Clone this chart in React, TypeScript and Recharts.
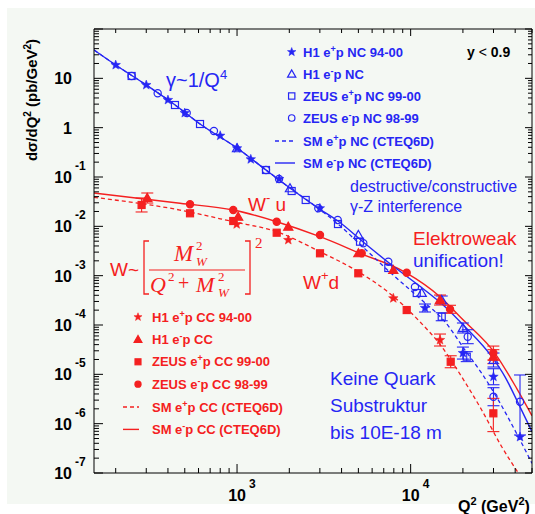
// HERA NC / CC cross sections vs Q² — log-log plot, ROOT style frame.
import { ComposedChart, ErrorBar, Line, Scatter, XAxis, YAxis } from "recharts";

const BLUE = "#2626f4";
const RED = "#f42020";
const FONT = "'Liberation Sans', Arial, Helvetica, sans-serif";
const SERIF = "'Liberation Serif', 'DejaVu Serif', serif";

// page / frame geometry
const W = 535;
const H = 514;
const L = 94;
const R = 532;
const T = 29;
const B = 473;
const YAXIS_W = 60;
const XAXIS_H = 30;

const Q2_DOMAIN: [number, number] = [150, 50000];
const SIG_DOMAIN: [number, number] = [1e-7, 100];

// tick grid (log decades, minor ticks at 2..9)
const xDecades = [2, 3, 4];
const yDecades = [-7, -6, -5, -4, -3, -2, -1, 0, 1];
const mantissas = [1, 2, 3, 4, 5, 6, 7, 8, 9];
const xTicks = xDecades
  .flatMap((d) => mantissas.map((m) => m * 10 ** d))
  .filter((v) => v >= Q2_DOMAIN[0] && v <= Q2_DOMAIN[1]);
const yTicks = [...yDecades.flatMap((d) => mantissas.map((m) => m * 10 ** d)), 100];
const xLabelled = [1000, 10000];

// --- SM curves (CTEQ6D) ---
const ncPosQ2 = [150, 200, 300, 440, 612, 1000, 1468, 2018, 2926, 3815, 5458, 8128, 11580, 15770, 20560, 25660, 31990, 41700, 50000];
const ncPosSigma = [37.5, 18.6, 7.32, 2.88, 1.186, 0.387, 0.1386, 0.0598, 0.0235, 0.01114, 0.00347, 9.5e-4, 3.2e-4, 1.16e-4, 3.11e-5, 1.05e-5, 3.01e-6, 5.43e-7, 1.57e-7];
const ncEleQ2 = [150, 200, 300, 440, 612, 1000, 1468, 2018, 2926, 3815, 5458, 7780, 11060, 15770, 20560, 29310, 34960, 41700, 50000];
const ncEleSigma = [37.5, 18.6, 7.32, 2.88, 1.186, 0.387, 0.1386, 0.0598, 0.0235, 0.0128, 0.00449, 0.00164, 6.46e-4, 2.35e-4, 9.2e-5, 2.28e-5, 8.9e-6, 2.58e-6, 6.87e-7];
const ccPosQ2 = [150, 469, 951, 1692, 3006, 4995, 7780, 11060, 15100, 19680, 25660, 33460, 41700];
const ccPosSigma = [0.0387, 0.0214, 0.0124, 0.00778, 0.00306, 0.0012, 4.05e-4, 1.26e-4, 3.63e-5, 8.9e-6, 1.89e-6, 3.41e-7, 1e-7];
const ccEleQ2 = [150, 469, 951, 1692, 3006, 5105, 9280, 14760, 20100, 30600, 40800, 50000];
const ccEleSigma = [0.0474, 0.0293, 0.0214, 0.0124, 0.00616, 0.00284, 0.00118, 3.74e-4, 1.26e-4, 2.67e-5, 5.2e-6, 1.45e-6];

// --- NC data ---
type Err = [number, number] | null;
const h1PosNcQ2 = [200, 300, 400, 500, 800, 1000, 1200, 1750, 3000, 12100, 20000, 30000, 42650];
const h1PosNcSigma = [18.6, 7.32, 3.64, 1.98, 0.687, 0.3816, 0.2284, 0.091, 0.0232, 2.21e-4, 2.7e-5, 8.94e-6, 5.36e-7];
const h1PosNcErr: Err[] = [null, null, null, null, null, null, null, null, null, [3.76e-5, 4.53e-5], [6.6e-6, 8.7e-6], [2.79e-6, 4.05e-6], null];

const h1EleNcQ2 = [1000, 2018, 5000, 11580, 15100, 20000, 30000];
const h1EleNcSigma = [0.3816, 0.059, 0.00667, 4.45e-4, 3.21e-4, 8.69e-5, 1.95e-5];
const h1EleNcErr: Err[] = [null, null, null, null, [5.5e-5, 6.6e-5], [1.81e-5, 2.29e-5], [5.43e-6, 7.53e-6]];

const zeusPosNcQ2 = [247, 439, 612, 1468, 2064, 2486, 3815, 5109, 7435, 10840, 15100, 21040];
const zeusPosNcSigma = [11.15, 2.88, 1.186, 0.1386, 0.052, 0.0342, 0.01114, 0.00488, 0.00143, 4.45e-4, 1.47e-4, 2.28e-5];
const zeusPosNcErr: Err[] = [null, null, null, null, null, null, null, null, null, null, [2.5e-5, 3.0e-5], [4.7e-6, 6.0e-6]];

const zeusEleNcQ2 = [247, 349, 513, 736, 1468, 1745, 2938, 3800, 5338, 7435, 10590, 21320, 30000, 42650];
const zeusEleNcSigma = [11.15, 4.97, 1.98, 0.855, 0.1386, 0.091, 0.0232, 0.01343, 0.00453, 0.00192, 5.89e-4, 5.79e-5, 3.52e-6, 2.79e-6];
const zeusEleNcErr: Err[] = [null, null, null, null, null, null, null, null, null, null, null, [1.61e-5, 2.23e-5], [1.21e-6, 1.84e-6], [2.2e-6, 6.91e-6]];

// --- CC data ---
const h1PosCcQ2 = [995, 1973, 7945, 14760];
const h1PosCcSigma = [0.01099, 0.00528, 3.48e-4, 4.96e-5];
const h1PosCcErr: Err[] = [null, null, null, [1.21e-5, 1.6e-5]];

const h1EleCcQ2 = [304, 1015, 1973, 5000, 7945, 14760, 29950];
const h1EleCcSigma = [0.0375, 0.01567, 0.00982, 0.00284, 0.0013, 3.21e-4, 2.28e-5];
const h1EleCcErr: Err[] = [[0.0078, 0.0099], null, null, null, null, [6.7e-5, 8.4e-5], [6.35e-6, 8.8e-6]];

const zeusPosCcQ2 = [282, 536, 951, 1692, 3005, 4995, 9490, 17010, 29950];
const zeusPosCcSigma = [0.0271, 0.01837, 0.01282, 0.00743, 0.00284, 0.001117, 2.01e-4, 1.8e-5, 1.62e-6];
const zeusPosCcErr: Err[] = [[0.00755, 0.01046], null, null, null, null, null, null, [4.4e-6, 5.8e-6], [9.3e-7, 1.64e-6]];

const zeusEleCcQ2 = [536, 951, 1692, 3005, 5224, 9490, 16860, 29950];
const zeusEleCcSigma = [0.02795, 0.0214, 0.01241, 0.00667, 0.00284, 0.001148, 2.08e-4, 2.7e-5];
const zeusEleCcErr: Err[] = [null, null, null, null, null, null, [3.5e-5, 4.3e-5], [7.5e-6, 1.04e-5]];

const toRows = (q2: number[], sigma: number[], err?: Err[]) =>
  q2.map((x, i) => ({ x, y: sigma[i], err: err?.[i] ?? undefined }));

type Kind = "star" | "triangle" | "square" | "circle";

function Marker({ cx, cy, kind, color, filled, s = 1 }: { cx: number; cy: number; kind: Kind; color: string; filled: boolean; s?: number }) {
  if (cx == null || cy == null) return null;
  const fill = filled ? color : "none";
  if (kind === "star") {
    const pts: string[] = [];
    for (let i = 0; i < 10; i++) {
      const r = (i % 2 === 0 ? 5 : 2.1) * s;
      const a = -Math.PI / 2 + (i * Math.PI) / 5;
      pts.push(`${cx + r * Math.cos(a)},${cy + r * Math.sin(a)}`);
    }
    return <polygon points={pts.join(" ")} fill={color} stroke={color} strokeWidth={0.5} />;
  }
  if (kind === "triangle") {
    const r = 4.6 * s;
    return (
      <polygon
        points={`${cx},${cy - r} ${cx - r},${cy + r * 0.75} ${cx + r},${cy + r * 0.75}`}
        fill={fill}
        stroke={color}
        strokeWidth={1.2}
      />
    );
  }
  if (kind === "square") {
    const h = 3.5 * s;
    return <rect x={cx - h} y={cy - h} width={2 * h} height={2 * h} fill={fill} stroke={color} strokeWidth={1.2} />;
  }
  return <circle cx={cx} cy={cy} r={3.6 * s} fill={fill} stroke={color} strokeWidth={1.2} />;
}

const isMajor = (v: number) => {
  const l = Math.log10(v);
  return Math.abs(l - Math.round(l)) < 1e-6;
};

function LeftTick({ y, payload }: any) {
  const v = payload.value;
  const major = isMajor(v);
  const e = Math.round(Math.log10(v));
  return (
    <g>
      <line x1={L} x2={L + (major ? 9 : 5)} y1={y} y2={y} stroke="#000" />
      {major && e <= 1 && (
        <g fontFamily={FONT} fontWeight="bold" fill="#000">
          <text x={72} y={y + 6} fontSize={16} textAnchor="end">
            {e === 0 ? "1" : "10"}
          </text>
          {e < 0 && (
            <text x={75} y={y - 7} fontSize={12}>
              {e}
            </text>
          )}
        </g>
      )}
    </g>
  );
}

function RightTick({ y, payload }: any) {
  const major = isMajor(payload.value);
  return <line x1={R} x2={R - (major ? 7 : 4)} y1={y} y2={y} stroke="#000" />;
}

function TopTick({ x, payload }: any) {
  const major = isMajor(payload.value);
  return <line x1={x} x2={x} y1={T} y2={T + (major ? 7 : 4)} stroke="#000" />;
}

function BottomTick({ x, payload }: any) {
  const v = payload.value;
  const major = isMajor(v);
  const e = Math.round(Math.log10(v));
  return (
    <g>
      <line x1={x} x2={x} y1={B} y2={B - (major ? 9 : 5)} stroke="#000" />
      {xLabelled.includes(v) && (
        <g fontFamily={FONT} fontWeight="bold" fill="#000">
          <text x={x} y={501} fontSize={16} textAnchor="middle">
            10
          </text>
          <text x={x + 12} y={488} fontSize={12}>
            {e}
          </text>
        </g>
      )}
    </g>
  );
}

type Part = string | [string];
function rich(parts: Part[], supSize: number, raise: number) {
  let up = false;
  return parts.map((p, i) => {
    if (Array.isArray(p)) {
      const el = (
        <tspan key={i} dy={up ? 0 : -raise} fontSize={supSize}>
          {p[0]}
        </tspan>
      );
      up = true;
      return el;
    }
    const el = (
      <tspan key={i} dy={up ? raise : 0}>
        {p}
      </tspan>
    );
    up = false;
    return el;
  });
}

const ncLegend: { kind: Kind; filled: boolean; label: Part[] }[] = [
  { kind: "star", filled: true, label: ["H1 e", ["+"], "p NC 94-00"] },
  { kind: "triangle", filled: false, label: ["H1 e", ["-"], "p NC"] },
  { kind: "square", filled: false, label: ["ZEUS e", ["+"], "p NC 99-00"] },
  { kind: "circle", filled: false, label: ["ZEUS e", ["-"], "p NC 98-99"] },
];
const ncLegendLines: { dash: boolean; label: Part[] }[] = [
  { dash: true, label: ["SM e", ["+"], "p NC (CTEQ6D)"] },
  { dash: false, label: ["SM e", ["-"], "p NC (CTEQ6D)"] },
];
const ccLegend: { kind: Kind; label: Part[] }[] = [
  { kind: "star", label: ["H1 e", ["+"], "p CC 94-00"] },
  { kind: "triangle", label: ["H1 e", ["-"], "p CC"] },
  { kind: "square", label: ["ZEUS e", ["+"], "p CC 99-00"] },
  { kind: "circle", label: ["ZEUS e", ["-"], "p CC 98-99"] },
];
const ccLegendLines: { dash: boolean; label: Part[] }[] = [
  { dash: true, label: ["SM e", ["+"], "p CC (CTEQ6D)"] },
  { dash: false, label: ["SM e", ["-"], "p CC (CTEQ6D)"] },
];

const points: { rows: ReturnType<typeof toRows>; kind: Kind; color: string; filled: boolean }[] = [
  { rows: toRows(h1PosNcQ2, h1PosNcSigma, h1PosNcErr), kind: "star", color: BLUE, filled: true },
  { rows: toRows(h1EleNcQ2, h1EleNcSigma, h1EleNcErr), kind: "triangle", color: BLUE, filled: false },
  { rows: toRows(zeusPosNcQ2, zeusPosNcSigma, zeusPosNcErr), kind: "square", color: BLUE, filled: false },
  { rows: toRows(zeusEleNcQ2, zeusEleNcSigma, zeusEleNcErr), kind: "circle", color: BLUE, filled: false },
  { rows: toRows(h1PosCcQ2, h1PosCcSigma, h1PosCcErr), kind: "star", color: RED, filled: true },
  { rows: toRows(h1EleCcQ2, h1EleCcSigma, h1EleCcErr), kind: "triangle", color: RED, filled: true },
  { rows: toRows(zeusPosCcQ2, zeusPosCcSigma, zeusPosCcErr), kind: "square", color: RED, filled: true },
  { rows: toRows(zeusEleCcQ2, zeusEleCcSigma, zeusEleCcErr), kind: "circle", color: RED, filled: true },
];

const curves = [
  { rows: toRows(ccPosQ2, ccPosSigma), color: RED, dash: "4 3", w: 1.3 },
  { rows: toRows(ccEleQ2, ccEleSigma), color: RED, dash: undefined, w: 1.4 },
  { rows: toRows(ncPosQ2, ncPosSigma), color: BLUE, dash: "4 3", w: 1.3 },
  { rows: toRows(ncEleQ2, ncEleSigma), color: BLUE, dash: undefined, w: 1.4 },
];

export default function App() {
  const axisCommon = { type: "number" as const, scale: "log" as const, allowDataOverflow: true, interval: 0, tickSize: 0, tickMargin: 0, tickLine: false, axisLine: { stroke: "#000" } };
  return (
    <div style={{ position: "absolute", left: 0, top: 0, width: W, height: H, background: "#fff" }}>
      <div style={{ position: "absolute", left: 7, top: 8, width: W - 7, height: 496, background: "#f4f8f3" }} />
      <div style={{ position: "absolute", left: 0, top: 0 }}>
        <ComposedChart
          width={W}
          height={H}
          margin={{ top: T - 1, right: W - R - 1, bottom: H - B - XAXIS_H, left: L - YAXIS_W }}
        >
          <XAxis xAxisId="b" dataKey="x" orientation="bottom" height={XAXIS_H} domain={Q2_DOMAIN} ticks={xTicks} tick={(p: any) => <BottomTick {...p} />} {...axisCommon} />
          <XAxis xAxisId="t" dataKey="x" orientation="top" height={1} domain={Q2_DOMAIN} ticks={xTicks} tick={(p: any) => <TopTick {...p} />} {...axisCommon} />
          <YAxis yAxisId="l" dataKey="y" orientation="left" width={YAXIS_W} domain={SIG_DOMAIN} ticks={yTicks} tick={(p: any) => <LeftTick {...p} />} {...axisCommon} />
          <YAxis yAxisId="r" dataKey="y" orientation="right" width={1} domain={SIG_DOMAIN} ticks={yTicks} tick={(p: any) => <RightTick {...p} />} {...axisCommon} />
          {curves.map((c, i) => (
            <Line
              key={`c${i}`}
              xAxisId="b"
              yAxisId="l"
              data={c.rows}
              dataKey="y"
              type="monotone"
              stroke={c.color}
              strokeWidth={c.w}
              strokeDasharray={c.dash}
              dot={false}
              activeDot={false}
              isAnimationActive={false}
            />
          ))}
          {points.map((s, i) => (
            <Scatter
              key={`s${i}`}
              xAxisId="b"
              yAxisId="l"
              data={s.rows}
              dataKey="y"
              isAnimationActive={false}
              shape={(p: any) => <Marker cx={p.cx} cy={p.cy} kind={s.kind} color={s.color} filled={s.filled} />}
            >
              <ErrorBar dataKey="err" direction="y" width={6} stroke={s.color} strokeWidth={1.1} />
            </Scatter>
          ))}
        </ComposedChart>
      </div>
      <svg width={W} height={H} style={{ position: "absolute", left: 0, top: 0, pointerEvents: "none" }}>
        {/* axis titles */}
        <text transform="translate(37,100) rotate(-90)" textAnchor="middle" fontFamily={FONT} fontWeight="bold" fontSize={15} fill="#000">
          {rich(["d\u03c3/dQ", ["2"], " (pb/GeV", ["2"], ")"], 10, 6)}
        </text>
        <text x={458} y={512} fontFamily={FONT} fontWeight="bold" fontSize={16} fill="#000">
          {rich(["Q", ["2"], " (GeV", ["2"], ")"], 11, 7)}
        </text>

        {/* NC legend */}
        <g fontFamily={FONT} fontWeight="bold" fontSize={13} fill={BLUE}>
          {ncLegend.map((e, i) => (
            <g key={i}>
              <Marker cx={291.7} cy={52 + i * 22} kind={e.kind} color={BLUE} filled={e.filled} s={0.9} />
              <text x={303} y={56.5 + i * 22}>{rich(e.label, 9, 5)}</text>
            </g>
          ))}
          {ncLegendLines.map((e, i) => (
            <g key={i}>
              <line x1={275} x2={295} y1={141 + i * 22} y2={141 + i * 22} stroke={BLUE} strokeWidth={1.4} strokeDasharray={e.dash ? "4 3" : undefined} />
              <text x={303} y={145.5 + i * 22}>{rich(e.label, 9, 5)}</text>
            </g>
          ))}
        </g>
        <text x={467} y={57} fontFamily={FONT} fontWeight="bold" fontSize={14} fill="#000">
          y <tspan fontWeight="normal">&lt;</tspan> 0.9
        </text>

        {/* CC legend */}
        <g fontFamily={FONT} fontWeight="bold" fontSize={13} fill={RED}>
          {ccLegend.map((e, i) => (
            <g key={i}>
              <Marker cx={138} cy={317 + i * 22.4} kind={e.kind} color={RED} filled s={0.85} />
              <text x={152} y={321.5 + i * 22.4}>{rich(e.label, 9, 5)}</text>
            </g>
          ))}
          {ccLegendLines.map((e, i) => (
            <g key={i}>
              <line x1={123} x2={139} y1={407 + i * 22.4} y2={407 + i * 22.4} stroke={RED} strokeWidth={1.4} strokeDasharray={e.dash ? "4 3" : undefined} />
              <text x={152} y={411.5 + i * 22.4}>{rich(e.label, 9, 5)}</text>
            </g>
          ))}
        </g>

        {/* annotations */}
        <g fontFamily={FONT}>
          <text x={166} y={87} fontSize={20} fill={BLUE}>
            {rich(["\u03b3~1/Q", ["4"]], 13, 8)}
          </text>
          <text x={350} y={191.5} fontSize={16} fill={BLUE}>destructive/constructive</text>
          <text x={350} y={211.5} fontSize={16} fill={BLUE}>{"\u03b3-Z interference"}</text>
          <text x={413} y={245} fontSize={19} fill={RED}>Elektroweak</text>
          <text x={413} y={267} fontSize={19} fill={BLUE}>unification!</text>
          <text x={248} y={211} fontSize={19} fill={RED}>
            {rich(["W", ["-"], " u"], 13, 9)}
          </text>
          <text x={303} y={289} fontSize={19} fill={RED}>
            {rich(["W", ["+"], "d"], 13, 9)}
          </text>
          <text x={330} y={385} fontSize={19} fill={BLUE}>Keine Quark</text>
          <text x={330} y={412} fontSize={19} fill={BLUE}>Substruktur</text>
          <text x={330} y={439} fontSize={19} fill={BLUE}>bis 10E-18 m</text>
        </g>

        {/* W propagator formula */}
        <g fill={RED} fontFamily={SERIF}>
          <text x={110} y={276} fontFamily={FONT} fontSize={19}>W~</text>
          <path d="M149 241 H144 V294 H149" stroke={RED} fill="none" strokeWidth={1.3} />
          <path d="M245 241 H250 V294 H245" stroke={RED} fill="none" strokeWidth={1.3} />
          <text x={255} y={248} fontSize={15}>2</text>
          <text x={174} y={261} fontSize={23} fontStyle="italic">M</text>
          <text x={196} y={250} fontSize={13}>2</text>
          <text x={196} y={266} fontSize={13} fontStyle="italic">W</text>
          <line x1={149} x2={245} y1={270} y2={270} stroke={RED} strokeWidth={1.2} />
          <text x={150} y={292} fontSize={22} fontStyle="italic">Q</text>
          <text x={168} y={281} fontSize={13}>2</text>
          <text x={178} y={290} fontSize={20}>+</text>
          <text x={196} y={292} fontSize={22} fontStyle="italic">M</text>
          <text x={218} y={281} fontSize={13}>2</text>
          <text x={218} y={297} fontSize={13} fontStyle="italic">W</text>
        </g>
      </svg>
    </div>
  );
}
